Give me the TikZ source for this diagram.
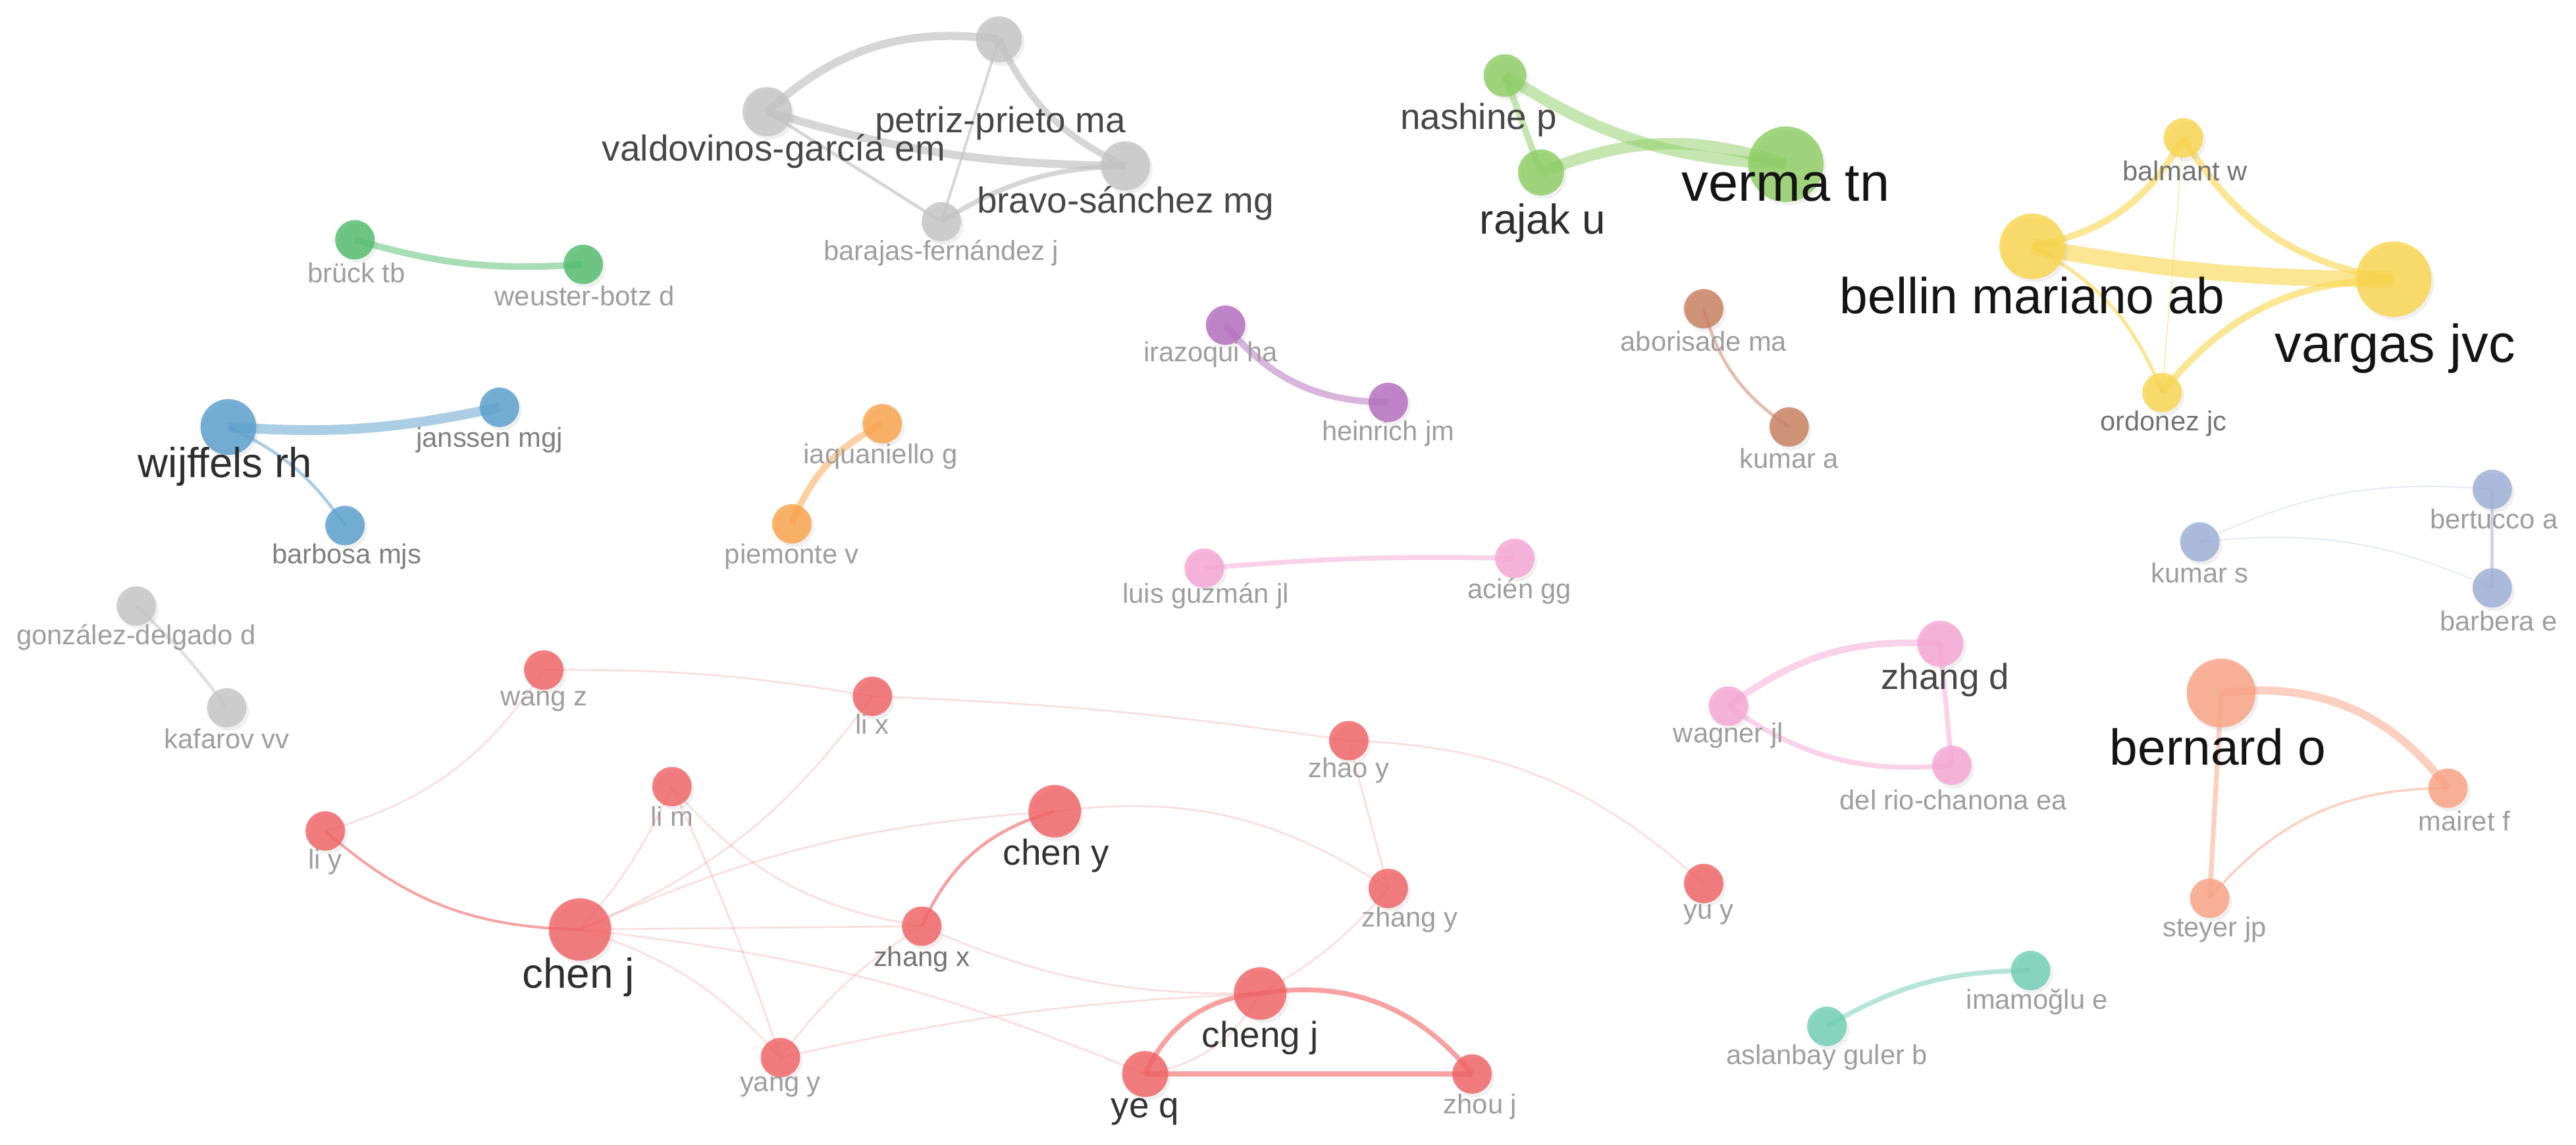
\documentclass[tikz,border=0pt]{standalone}
\usepackage{fontspec}
\setmainfont{Liberation Sans}
\usepackage{tikz}
\usetikzlibrary{shadows,backgrounds}

\definecolor{cGray}{RGB}{196,196,196}
\definecolor{cLime}{RGB}{141,206,100}
\definecolor{cYellow}{RGB}{249,214,77}
\definecolor{cGreen}{RGB}{82,188,108}
\definecolor{cBlue}{RGB}{88,158,204}
\definecolor{cOrange}{RGB}{250,162,72}
\definecolor{cPurple}{RGB}{180,108,190}
\definecolor{cBrown}{RGB}{200,126,94}
\definecolor{cPink}{RGB}{246,166,212}
\definecolor{cSteel}{RGB}{156,174,214}
\definecolor{cSalmon}{RGB}{249,162,132}
\definecolor{cTeal}{RGB}{112,206,180}
\definecolor{cRed}{RGB}{241,98,100}

\tikzset{
	author/.style={circle, inner sep=0pt, minimum size=#1*0.04cm, fill opacity=0.82,
		drop shadow={shadow xshift=0.9pt, shadow yshift=-1.2pt, opacity=0.12}},
	link/.style={draw=#1, draw opacity=0.5},
	faint/.style={draw=cRed, draw opacity=0.22, line width=0.6pt},
	lsmall/.style={font=\fontsize{9.5}{11}\selectfont, text=black!38, inner sep=0pt},
	lmed/.style={font=\fontsize{12.5}{14}\selectfont, text=black!72, inner sep=0pt},
	lbig/.style={font=\fontsize{14.5}{17}\selectfont, text=black!82, inner sep=0pt},
	lhuge/.style={font=\fontsize{18.5}{21}\selectfont, text=black!92, inner sep=0pt},
}

\begin{document}
\begin{tikzpicture}[x=0.02cm, y=-0.02cm]
		\useasboundingbox (0,0) rectangle (1568,697);
		% gray group
		\node[author=15, fill=cGray] (vg) at (467,68) {};
		\node[author=14, fill=cGray] (pp) at (608,24) {};
		\node[author=15, fill=cGray] (bs) at (685,101) {};
		\node[author=12, fill=cGray] (bf) at (573,135) {};
		\node[lmed] (vg-l) at (471,92) {valdovinos-garcía em};
		\node[lmed] (pp-l) at (609,75) {petriz-prieto ma};
		\node[lmed] (bs-l) at (685,124) {bravo-sánchez mg};
		\node[lsmall] (bf-l) at (573,154) {barajas-fernández j};
		% lime group
		\node[author=13, fill=cLime] (np) at (916,46) {};
		\node[author=14, fill=cLime] (ru) at (938,105) {};
		\node[author=23, fill=cLime] (vt) at (1087,100) {};
		\node[lmed] (np-l) at (900,73) {nashine p};
		\node[lbig] (ru-l) at (939,136) {rajak u};
		\node[lhuge] (vt-l) at (1087,112) {verma tn};
		% yellow group
		\node[author=12, fill=cYellow] (bw) at (1329,84) {};
		\node[author=20, fill=cYellow] (bm) at (1237,150) {};
		\node[author=23, fill=cYellow] (vj) at (1457,170) {};
		\node[author=12, fill=cYellow] (oj) at (1316,239) {};
		\node[lsmall, text=black!55] (bw-l) at (1330,104) {balmant w};
		\node[lsmall, text=black!55] (oj-l) at (1317,258) {ordonez jc};
		\node[lhuge, font=\fontsize{17.5}{20}\selectfont] (bm-l) at (1237,180) {bellin mariano ab};
		\node[lhuge] (vj-l) at (1458,212) {vargas jvc};
		% green group
		\node[author=12, fill=cGreen] (bt) at (216,146) {};
		\node[author=12, fill=cGreen] (wb) at (355,161) {};
		\node[lsmall] (bt-l) at (217,166) {brück tb};
		\node[lsmall] (wb-l) at (356,180) {weuster-botz d};
		% blue group
		\node[author=17, fill=cBlue] (wr) at (139,260) {};
		\node[author=12, fill=cBlue] (jm) at (304,248) {};
		\node[author=12, fill=cBlue] (bj) at (210,320) {};
		\node[lbig] (wr-l) at (137,284) {wijffels rh};
		\node[lsmall, text=black!50] (jm-l) at (298,268) {janssen mgj};
		\node[lsmall, text=black!50] (bj-l) at (211,339) {barbosa mjs};
		% orange, purple, brown
		\node[author=12, fill=cOrange] (iq) at (537,258) {};
		\node[author=12, fill=cOrange] (pv) at (482,319) {};
		\node[lsmall] (iq-l) at (536,278) {iaquaniello g};
		\node[lsmall] (pv-l) at (482,339) {piemonte v};
		\node[author=12, fill=cPurple] (ih) at (746,198) {};
		\node[author=12, fill=cPurple] (hj) at (845,245) {};
		\node[lsmall] (ih-l) at (737,216) {irazoqui ha};
		\node[lsmall] (hj-l) at (845,264) {heinrich jm};
		\node[author=12, fill=cBrown] (am) at (1037,188) {};
		\node[author=12, fill=cBrown] (ka) at (1089,260) {};
		\node[lsmall] (am-l) at (1037,208) {aborisade ma};
		\node[lsmall] (ka-l) at (1089,279) {kumar a};
		% pink groups
		\node[author=12, fill=cPink] (lg) at (733,346) {};
		\node[author=12, fill=cPink] (ag) at (922,340) {};
		\node[lsmall] (lg-l) at (734,363) {luis guzmán jl};
		\node[lsmall] (ag-l) at (925,360) {acién gg};
		\node[author=14, fill=cPink] (zd) at (1181,392) {};
		\node[author=12, fill=cPink] (wj) at (1052,430) {};
		\node[author=12, fill=cPink] (dr) at (1188,466) {};
		\node[lmed] (zd-l) at (1184,414) {zhang d};
		\node[lsmall] (wj-l) at (1052,448) {wagner jl};
		\node[lsmall] (dr-l) at (1189,487) {del rio-chanona ea};
		% steel group
		\node[author=12, fill=cSteel] (ba) at (1517,298) {};
		\node[author=12, fill=cSteel] (ks) at (1339,330) {};
		\node[author=12, fill=cSteel] (be) at (1517,358) {};
		\node[lsmall] (ba-l) at (1518,316) {bertucco a};
		\node[lsmall] (ks-l) at (1339,349) {kumar s};
		\node[lsmall] (be-l) at (1521,378) {barbera e};
		% salmon group
		\node[author=21, fill=cSalmon] (bo) at (1352,422) {};
		\node[author=12, fill=cSalmon] (mf) at (1490,480) {};
		\node[author=12, fill=cSalmon] (sj) at (1345,547) {};
		\node[lhuge, font=\fontsize{17.5}{20}\selectfont] (bo-l) at (1350,455) {bernard o};
		\node[lsmall] (mf-l) at (1500,500) {mairet f};
		\node[lsmall] (sj-l) at (1348,566) {steyer jp};
		% teal and second gray
		\node[author=12, fill=cTeal] (ie) at (1236,591) {};
		\node[author=12, fill=cTeal] (ab) at (1112,625) {};
		\node[lsmall] (ie-l) at (1240,610) {imamoğlu e};
		\node[lsmall] (ab-l) at (1112,644) {aslanbay guler b};
		\node[author=12, fill=cGray] (gd) at (83,369) {};
		\node[author=12, fill=cGray] (kv) at (138,431) {};
		\node[lsmall] (gd-l) at (83,388) {gonzález-delgado d};
		\node[lsmall] (kv-l) at (138,450) {kafarov vv};
		% red group
		\node[author=12, fill=cRed] (wz) at (331,408) {};
		\node[author=12, fill=cRed] (lx) at (531,424) {};
		\node[author=12, fill=cRed] (ly) at (198,506) {};
		\node[author=12, fill=cRed] (lm) at (409,479) {};
		\node[author=19, fill=cRed] (cj) at (353,566) {};
		\node[author=16, fill=cRed] (cy) at (642,494) {};
		\node[author=12, fill=cRed] (zy) at (821,451) {};
		\node[author=12, fill=cRed] (zg) at (845,541) {};
		\node[author=12, fill=cRed] (yy) at (1037,538) {};
		\node[author=12, fill=cRed] (zx) at (561,564) {};
		\node[author=12, fill=cRed] (yg) at (475,644) {};
		\node[author=16, fill=cRed] (cg) at (767,605) {};
		\node[author=14, fill=cRed] (yq) at (697,654) {};
		\node[author=12, fill=cRed] (zj) at (896,654) {};
		\node[lsmall] (wz-l) at (331,427) {wang z};
		\node[lsmall] (lx-l) at (531,441) {li x};
		\node[lsmall] (ly-l) at (198,525) {li y};
		\node[lsmall] (lm-l) at (409,497) {li m};
		\node[lbig] (cj-l) at (352,595) {chen j};
		\node[lmed, text=black!80] (cy-l) at (643,521) {chen y};
		\node[lsmall] (zy-l) at (821,469) {zhao y};
		\node[lsmall] (zg-l) at (858,560) {zhang y};
		\node[lsmall] (yy-l) at (1040,557) {yu y};
		\node[lsmall, text=black!55] (zx-l) at (561,584) {zhang x};
		\node[lsmall] (yg-l) at (475,662) {yang y};
		\node[lmed, text=black!80] (cg-l) at (767,632) {cheng j};
		\node[lmed, text=black!80] (yq-l) at (697,677) {ye q};
		\node[lsmall] (zj-l) at (901,674) {zhou j};

		\begin{pgfonlayer}{background}
		%\path[link=cGray, line width=1pt] (vg) edge (pp);
		\path[link=cGray, draw opacity=0.7]
		(vg.center) edge[bend left=25, line width=2.8pt] (pp.center)
		(vg.center) edge[bend right=8, line width=2.8pt] (bs.center)
		(pp.center) edge[bend right=20, line width=2.3pt] (bs.center)
		(vg.center) edge[line width=1.1pt] (bf.center)
		(pp.center) edge[line width=0.9pt] (bf.center)
		(bs.center) edge[bend right=15, line width=1.7pt] (bf.center);
		\path[link=cLime]
		(np.center) edge[bend right=15, line width=4pt] (vt.center)
		(ru.center) edge[bend left=20, line width=4pt] (vt.center)
		(np.center) edge[line width=2.3pt] (ru.center);
		\path[link=cYellow, draw opacity=0.6]
		(bm.center) edge[bend right=5, line width=5.7pt] (vj.center)
		(bm.center) edge[bend right=25, line width=2.3pt] (bw.center)
		(bw.center) edge[bend right=25, line width=2.3pt] (vj.center)
		(vj.center) edge[bend right=25, line width=2.3pt] (oj.center)
		(oj.center) edge[bend right=20, line width=1.2pt] (bm.center)
		(bw.center) edge[line width=0.3pt] (oj.center);
		\path[link=cGreen, line width=2.3pt] (bt.center) edge[bend right=10] (wb.center);
		\path[link=cBlue]
		(wr.center) edge[bend right=8, line width=3.4pt] (jm.center)
		(wr.center) edge[bend left=15, line width=1.1pt] (bj.center);
		\path[link=cOrange, line width=2.3pt] (pv.center) edge[bend left=20] (iq.center);
		\path[link=cPurple, line width=2.3pt] (ih.center) edge[bend right=25] (hj.center);
		\path[link=cBrown, line width=1.1pt] (am.center) edge[bend right=20] (ka.center);
		\path[link=cPink, line width=1.7pt] (lg.center) edge[bend left=3] (ag.center);
		\path[link=cPink]
		(wj.center) edge[bend left=20, line width=2.3pt] (zd.center)
		(wj.center) edge[bend right=20, line width=1.7pt] (dr.center)
		(zd.center) edge[line width=1.7pt] (dr.center);
		\path[link=cSteel]
		(ks.center) edge[bend left=15, line width=0.4pt, draw opacity=0.3] (ba.center)
		(ks.center) edge[bend left=15, line width=0.4pt, draw opacity=0.3] (be.center)
		(ba.center) edge[line width=1.1pt] (be.center);
		\path[link=cSalmon]
		(bo.center) edge[bend left=30, line width=2.8pt] (mf.center)
		(bo.center) edge[line width=1.7pt] (sj.center)
		(sj.center) edge[bend left=25, line width=0.8pt] (mf.center);
		\path[link=cTeal, line width=1.7pt] (ab.center) edge[bend left=15] (ie.center);
		\path[link=cGray, line width=1.1pt] (gd.center) edge[bend left=5] (kv.center);
		% red group links
		\path[faint]
		(wz.center) edge[bend left=5] (lx.center)
		(lx.center) edge[bend left=3] (zy.center)
		(zy.center) edge[bend left=20] (yy.center)
		(ly.center) edge[bend right=20] (wz.center)
		(cj.center) edge[bend right=8] (lm.center)
		(cj.center) edge[bend right=15] (lx.center)
		(cj.center) edge[bend left=10] (cy.center)
		(cj.center) edge (zx.center)
		(cj.center) edge[bend left=8] (yq.center)
		(cj.center) edge[bend left=15] (yg.center)
		(lm.center) edge[bend left=3] (yg.center)
		(lm.center) edge[bend right=20] (zx.center)
		(yg.center) edge[bend left=10] (zx.center)
		(yg.center) edge[bend left=5] (cg.center)
		(zx.center) edge[bend right=12] (cg.center)
		(cy.center) edge[bend left=20] (zg.center)
		(zy.center) edge (zg.center)
		(zg.center) edge[bend left=10] (cg.center)
		(yq.center) edge[bend right=25] (cg.center);
		\path[link=cRed, draw opacity=0.6]
		(ly.center) edge[bend right=20, line width=0.9pt] (cj.center)
		(zx.center) edge[bend left=25, line width=1.1pt] (cy.center)
		(yq.center) edge[bend left=30, line width=1.7pt] (cg.center)
		(cg.center) edge[bend left=30, line width=1.7pt] (zj.center)
		(yq.center) edge[line width=1.7pt] (zj.center);
		\end{pgfonlayer}
\end{tikzpicture}
\end{document}
